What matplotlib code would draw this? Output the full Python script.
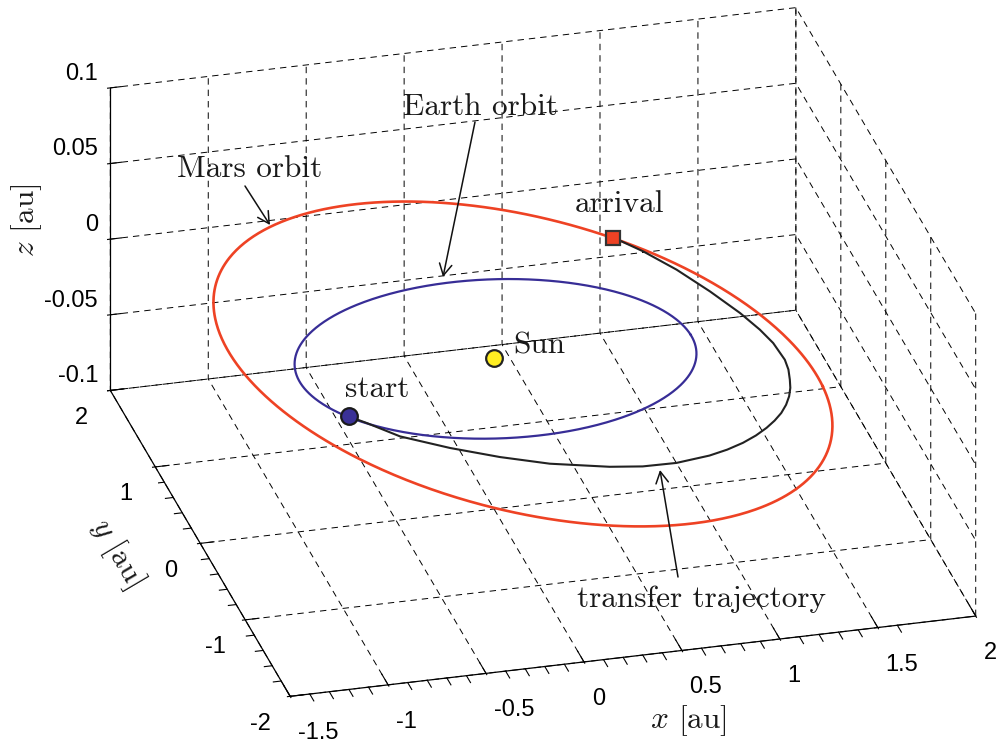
import numpy as np
import matplotlib
matplotlib.use('Agg')
import matplotlib.pyplot as plt
from matplotlib.ticker import FuncFormatter

# orbital elements (au, deg)
earth_a, earth_e, earth_peri = 1.0, 0.0167, 103.0
mars_a, mars_e, mars_peri = 1.54, 0.0934, 165.0
mars_node, mars_inc = 55.0, 1.85

# transfer trajectory (ecliptic longitude [deg], distance [au]), start -> arrival
transfer_lon = [210.7, 217.7, 231.0, 246.0, 258.4, 268.7, 279.3, 284.7, 290.4, 296.6,
                300.4, 304.2, 307.9, 311.5, 314.8, 318.2, 321.8, 325.5, 329.2, 332.9,
                337.6, 342.3, 350.9, 358.4, 8.5, 22.4, 36.1, 47.1, 53.4, 55.0]
transfer_r = [1.000, 1.003, 1.065, 1.140, 1.249, 1.377, 1.520, 1.595, 1.652, 1.684,
              1.691, 1.690, 1.681, 1.667, 1.651, 1.632, 1.607, 1.579, 1.549, 1.518,
              1.485, 1.452, 1.392, 1.349, 1.315, 1.317, 1.385, 1.485, 1.560, 1.577]

x_ticks = [-1.5, -1, -0.5, 0, 0.5, 1, 1.5, 2]
y_ticks = [-2, -1, 0, 1, 2]
z_ticks = [-0.1, -0.05, 0, 0.05, 0.1]
x_minor = [v for v in np.round(np.arange(-1.5, 2.01, 0.1), 2) if v not in x_ticks]
y_minor = [v for v in np.round(np.arange(-2, 2.01, 0.2), 2) if v not in y_ticks]


def orbit_xyz(a, e, peri, node=0.0, inc=0.0):
    lon = np.radians(np.linspace(0, 360, 721))
    r = a * (1 - e**2) / (1 + e * np.cos(lon - np.radians(peri)))
    z = r * np.sin(lon - np.radians(node)) * np.sin(np.radians(inc))
    return r * np.cos(lon), r * np.sin(lon), z


plt.rcParams.update({
    'font.family': ['Liberation Sans', 'DejaVu Sans'],
    'axes.unicode_minus': False,
    'mathtext.fontset': 'cm',
    'grid.color': 'k',
    'grid.linewidth': 0.7,
    'grid.linestyle': '--',
    'lines.dashed_pattern': [4.6, 3.6],
    'lines.scale_dashes': False,
})

fig = plt.figure(figsize=(10.08, 7.49), dpi=100)
S = 749
ax = fig.add_axes([158.4 / 1008, 12.4 / 749, S / 1008, S / 749],
                  projection='3d', proj_type='ortho')
ax.set_box_aspect((1, 1, 0.477), zoom=1.371)
ax.view_init(elev=26.5, azim=-104.7)
ax.computed_zorder = False

for axis, out in ((ax.xaxis, 0.45), (ax.yaxis, 0.25), (ax.zaxis, 0.2)):
    axis.set_pane_color((1, 1, 1, 0))
    axis.pane.set_edgecolor('none')
    axis.line.set_color('k')
    axis.line.set_linewidth(0.9)
    axis._axinfo['tick']['outward_factor'] = out
    axis._axinfo['tick']['inward_factor'] = 0.05

ax.set_xlim(-1.5, 2)
ax.set_ylim(-2, 2)
ax.set_zlim(-0.1, 0.1)
ax.set_xticks(x_ticks)
ax.set_yticks(y_ticks)
ax.set_zticks(z_ticks)
fmt = FuncFormatter(lambda v, p: '%g' % round(v, 4))
for axis in (ax.xaxis, ax.yaxis, ax.zaxis):
    axis.set_major_formatter(fmt)
ax.tick_params(labelsize=17, pad=4)
ax.zaxis.set_tick_params(pad=-4)
for lbl in ax.get_xticklabels():
    lbl.set_horizontalalignment('left')
for lbl in ax.get_zticklabels():
    lbl.set_horizontalalignment('right')
    lbl.set_verticalalignment('bottom')

# minor ticks along the x and y axis lines (outside the box, like MATLAB)
for v in x_minor:
    ax.plot([v, v], [-2, -2.09], [-0.1, -0.1], color='k', lw=0.8, zorder=1)
for v in y_minor:
    ax.plot([-1.5, -1.54], [v, v], [-0.1, -0.1], color='k', lw=0.8, zorder=1)

ex, ey, ez = orbit_xyz(earth_a, earth_e, earth_peri)
mx, my, mz = orbit_xyz(mars_a, mars_e, mars_peri, mars_node, mars_inc)
tl = np.radians(transfer_lon)
tx = np.array(transfer_r) * np.cos(tl)
ty = np.array(transfer_r) * np.sin(tl)
tz = np.zeros_like(tx)

ax.plot(mx, my, mz, color='#EE4224', lw=1.9, zorder=2)
ax.plot(ex, ey, ez, color='#372D96', lw=1.6, zorder=3)
ax.plot(tx, ty, tz, color='#222222', lw=1.5, zorder=4)
ax.plot([0], [0], [0], 'o', ms=12, mfc='#FFEE22', mec='#222222', mew=1.6, zorder=5)
ax.plot(tx[:1], ty[:1], tz[:1], 'o', ms=12, mfc='#3A3196', mec='#1A1A1A', mew=1.6, zorder=5)
ax.plot(tx[-1:], ty[-1:], tz[-1:], 's', ms=10, mfc='#EE4224', mec='#333333', mew=1.6, zorder=5)

# overlay in figure pixels for annotations
ov = fig.add_axes([0, 0, 1, 1])
ov.set_xlim(0, 1008)
ov.set_ylim(749, 0)
ov.set_axis_off()

serif = dict(family='cmr10', fontsize=22.5, color='#1a1a1a')
ov.text(177, 177, 'Mars orbit', **serif)
ov.text(403, 115, 'Earth orbit', **serif)
ov.text(513, 353, 'Sun', **serif)
ov.text(345, 397, 'start', **serif)
ov.text(575, 212, 'arrival', **serif)
ov.text(577, 607, 'transfer trajectory', **serif)
arrow = dict(arrowstyle='->,head_length=0.55,head_width=0.3', lw=1.1, color='#111111',
             shrinkA=0, shrinkB=0, mutation_scale=15)
ov.annotate('', xy=(270, 225), xytext=(245, 186), arrowprops=arrow)
ov.annotate('', xy=(443, 277), xytext=(475, 122), arrowprops=arrow)
ov.annotate('', xy=(660, 470), xytext=(678, 577), arrowprops=arrow)

ov.text(688, 728, r'$x$ [au]', ha='center', **serif)
ov.text(117, 553, r'$y$ [au]', ha='center', va='center', rotation=-59.5, **serif)
ov.text(27, 220, r'$z$ [au]', ha='center', va='center', rotation=90, **serif)

fig.savefig('out.png', dpi=100)
